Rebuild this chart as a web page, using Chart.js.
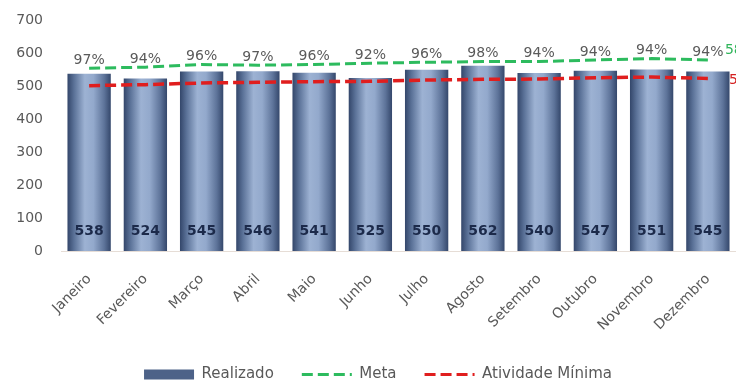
<!DOCTYPE html>
<html>
<head>
<meta charset="utf-8">
<script src="https://cdn.jsdelivr.net/npm/chart.js@4.4.1/dist/chart.umd.min.js"></script>
<style>
    html, body { margin: 0; padding: 0; background: #fff; }
    #wrap { width: 736px; height: 382px; }
</style>
</head>
<body>
<div id="wrap"><canvas id="chart" width="736" height="382"></canvas></div>
<script>
const MESES = ['Janeiro', 'Fevereiro', 'Março', 'Abril', 'Maio', 'Junho', 'Julho', 'Agosto', 'Setembro', 'Outubro', 'Novembro', 'Dezembro'];
const REALIZADO = [538, 524, 545, 546, 541, 525, 550, 562, 540, 547, 551, 545];
const META = [555, 558, 566, 564, 566, 570, 573, 575, 575, 580, 584, 580];
const ATIVIDADE_MINIMA = [502, 505, 510, 512, 514, 515, 519, 521, 522, 526, 528, 524];
const PERCENTUAIS = ['97%', '94%', '96%', '97%', '96%', '92%', '96%', '98%', '94%', '94%', '94%', '94%'];
const Y_TICKS = [0, 100, 200, 300, 400, 500, 600, 700];

const FONT = "'DejaVu Sans', 'Open Sans', sans-serif";
const DASH = [11, 5];

// gradiente horizontal em cada barra (escuro nas bordas, claro no meio)
const barGradientPlugin = {
    id: 'barGradient',
    afterLayout(chart) {
        // legenda um pouco deslocada para a direita, como no original
        chart.legend.left += 20;
    },
    beforeDatasetDraw(chart, args) {
        if (args.index !== 0) return;
        const ctx = chart.ctx;
        args.meta.data.forEach(el => {
            const left = el.x - el.width / 2;
            const right = el.x + el.width / 2;
            const g = ctx.createLinearGradient(left, 0, right, 0);
            g.addColorStop(0, '#33466a');
            g.addColorStop(0.15, '#5a7197');
            g.addColorStop(0.4, '#9db2d3');
            g.addColorStop(0.6, '#93a9cc');
            g.addColorStop(0.85, '#5d7399');
            g.addColorStop(1, '#34476b');
            el.options = Object.assign({}, el.options, { backgroundColor: g });
        });
    }
};

const labelsPlugin = {
    id: 'valueLabels',
    afterDatasetsDraw(chart) {
        const ctx = chart.ctx;
        const bars = chart.getDatasetMeta(0).data;
        const metaPts = chart.getDatasetMeta(1).data;
        const minPts = chart.getDatasetMeta(2).data;
        const yScale = chart.scales.y;
        ctx.save();
        ctx.textAlign = 'center';
        ctx.textBaseline = 'middle';

        // valores dentro das barras
        ctx.font = 'bold 14px ' + FONT;
        ctx.fillStyle = '#1c2a4a';
        bars.forEach((el, i) => {
            ctx.fillText(String(REALIZADO[i]), el.x, yScale.getPixelForValue(60));
        });

        // percentuais sobre a linha da meta
        ctx.font = '14px ' + FONT;
        ctx.fillStyle = '#5a5a5a';
        metaPts.forEach((pt, i) => {
            ctx.fillText(PERCENTUAIS[i], pt.x, pt.y - 8);
        });

        // rótulo do último ponto das linhas (cortado na borda)
        ctx.textAlign = 'left';
        ctx.font = '14px ' + FONT;
        const lastMeta = metaPts[metaPts.length - 1];
        ctx.fillStyle = '#2fb45a';
        ctx.fillText(String(META[META.length - 1]), lastMeta.x + 17, lastMeta.y - 10);
        const lastMin = minPts[minPts.length - 1];
        ctx.fillStyle = '#d42020';
        ctx.fillText(String(ATIVIDADE_MINIMA[ATIVIDADE_MINIMA.length - 1]), lastMin.x + 21, lastMin.y + 2);
        ctx.restore();
    }
};

const ctx = document.getElementById('chart').getContext('2d');
new Chart(ctx, {
    type: 'bar',
    data: {
        labels: MESES,
        datasets: [
            {
                label: 'Realizado',
                data: REALIZADO,
                backgroundColor: '#6d84aa',
                categoryPercentage: 0.77,
                barPercentage: 1,
                order: 3
            },
            {
                type: 'line',
                label: 'Meta',
                data: META,
                borderColor: '#2dbb5e',
                backgroundColor: '#2dbb5e',
                borderWidth: 3,
                borderDash: DASH,
                pointRadius: 0,
                tension: 0,
                order: 2
            },
            {
                type: 'line',
                label: 'Atividade Mínima',
                data: ATIVIDADE_MINIMA,
                borderColor: '#e01e1e',
                backgroundColor: '#e01e1e',
                borderWidth: 3.5,
                borderDash: DASH,
                pointRadius: 0,
                tension: 0,
                order: 1
            }
        ]
    },
    options: {
        responsive: false,
        animation: false,
        layout: { padding: { top: 8, right: 0, left: 0, bottom: -10 } },
        scales: {
            x: {
                grid: { display: false, drawTicks: true, tickLength: 14 },
                border: { display: true, color: '#e6ddd6' },
                ticks: {
                    color: '#595959',
                    font: { family: FONT, size: 14 },
                    minRotation: 45,
                    maxRotation: 45,
                    padding: 6
                },
                afterFit: scale => { scale.height = 88; }
            },
            y: {
                min: 0,
                max: 700,
                grid: { display: false, drawTicks: true, tickLength: 6 },
                border: { display: false },
                afterBuildTicks: scale => { scale.ticks = Y_TICKS.map(v => ({ value: v })); },
                ticks: {
                    color: '#595959',
                    font: { family: FONT, size: 14 },
                    padding: 12
                },
                afterFit: scale => { scale.width = 61; }
            }
        },
        plugins: {
            tooltip: { enabled: false },
            legend: {
                position: 'bottom',
                labels: {
                    color: '#595959',
                    font: { family: FONT, size: 15 },
                    usePointStyle: true,
                    pointStyleWidth: 50,
                    boxHeight: 10,
                    padding: 28,
                    sort: (a, b) => a.datasetIndex - b.datasetIndex,
                    generateLabels: chart => {
                        const items = Chart.defaults.plugins.legend.labels.generateLabels(chart);
                        items.forEach(it => {
                            if (it.datasetIndex === 0) {
                                it.pointStyle = 'rect';
                                it.fillStyle = '#4d6288';
                                it.lineWidth = 0;
                            } else {
                                it.pointStyle = 'line';
                                it.lineWidth = 3;
                                it.lineDash = DASH;
                            }
                        });
                        return items;
                    }
                }
            }
        }
    },
    plugins: [barGradientPlugin, labelsPlugin]
});
</script>
</body>
</html>
